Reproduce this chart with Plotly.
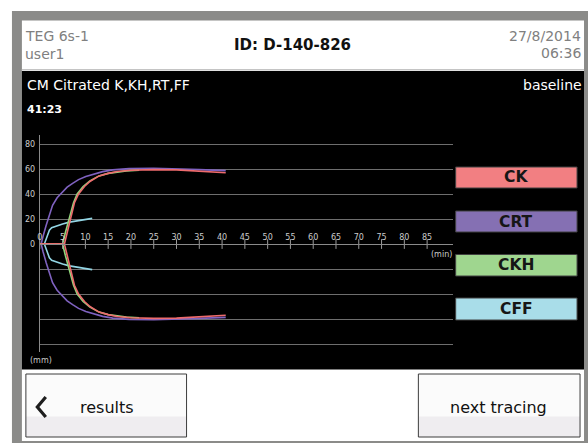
import plotly.graph_objects as go

W, H = 588, 443

# ---------------- data ----------------
series_names = ["CFF", "CRT", "CKH", "CK"]
ck_t = [0, 5.4, 6.0, 6.5, 7.0, 7.6, 8.5, 9.8, 11.0, 13.0, 15.0, 17.0, 20.0, 22.0, 25.0, 30.0, 35.0, 38.0, 40.8]
ck_amp = [0, 0, 9, 16, 25, 33, 40, 46, 50, 54.5, 56.5, 58, 59, 59.3, 59.5, 59.3, 58.5, 57.8, 57]
ckh_t = [0, 5.0, 5.6, 6.2, 6.8, 7.4, 8.2, 9.5, 11.0, 13.0, 15.0, 17.0, 19.0, 21.8]
ckh_amp = [0, 0, 9, 17, 25, 33, 40, 46, 50.5, 54.5, 56.5, 57.8, 58.5, 59]
crt_t = [0, 0.3, 0.7, 1.0, 1.4, 1.75, 2.3, 2.8, 3.8, 5.0, 6.0, 7.2, 8.5, 10.1, 12.0, 13.8, 16.0, 19.6, 25.0, 30.0, 35.0, 40.8]
crt_amp = [0, 0, 6, 11, 15, 19, 25, 31, 37, 42, 45.5, 48.5, 51.5, 54, 56.3, 57.9, 59.3, 60.3, 60.5, 60.3, 59.5, 58.7]
cff_t = [0, 1.0, 1.4, 1.75, 2.1, 2.6, 3.6, 5.0, 6.5, 8.0, 9.5, 11.5]
cff_amp = [0, 0, 4, 7.5, 11, 13, 14.5, 16, 17.5, 18.5, 19.5, 20.5]

x_ticks = list(range(0, 90, 5))
y_grid = [-80, -60, -40, -20, 0, 20, 40, 60, 80]
y_labels = ["", "", "", "", "0", "20", "40", "60", "80"]
legend_labels = ["CK", "CRT", "CKH", "CFF"]

# ---------------- styles ----------------
line_colors = {"CK": "#ee6b6d", "CRT": "#7f62c0", "CKH": "#90d67c", "CFF": "#92d5e4"}
box_colors = {"CK": "#f27f82", "CRT": "#8570b3", "CKH": "#9fd68f", "CFF": "#a9dde9"}
curves = {"CK": (ck_t, ck_amp), "CRT": (crt_t, crt_amp), "CKH": (ckh_t, ckh_amp), "CFF": (cff_t, cff_amp)}


def fx(x):
    return x / W


def fy(y):
    return 1 - y / H


fig = go.Figure()

for name in series_names:
    t, a = curves[name]
    fig.add_trace(go.Scatter(
        x=t + [None] + t,
        y=a + [None] + [-v for v in a],
        mode="lines",
        line=dict(color=line_colors[name], width=1.6),
        name=name, showlegend=False, hoverinfo="skip",
        connectgaps=False,
    ))

# tick marks crossing the zero axis
fig.add_trace(go.Scatter(
    x=x_ticks, y=[0] * len(x_ticks), mode="markers",
    marker=dict(symbol="line-ns", size=7, line=dict(color="#9a9a9a", width=1)),
    showlegend=False, hoverinfo="skip",
))

shapes = []


def rect(x0, y0, x1, y1, fill, line=None, lw=0):
    shapes.append(dict(type="rect", xref="paper", yref="paper", layer="below",
                       x0=fx(x0), x1=fx(x1), y0=fy(y1), y1=fy(y0),
                       fillcolor=fill,
                       line=dict(color=line or fill, width=lw)))


# frame
rect(9, 11, 588, 443, "#8b8b89")
rect(19, 20.5, 584, 441, "#ffffff")
rect(19, 71, 584, 369.5, "#000000")
shapes.append(dict(type="line", xref="paper", yref="paper", layer="below",
                   x0=fx(19), x1=fx(584), y0=fy(69.8), y1=fy(69.8),
                   line=dict(color="#c4c4c4", width=1.5)))

# buttons
for bx0, bx1 in [(23, 184.5), (417.5, 580)]:
    rect(bx0, 374, bx1, 437, "#fbfbfb")
    rect(bx0, 416.5, bx1, 437, "#efedf0")
    shapes.append(dict(type="rect", xref="paper", yref="paper", layer="below",
                       x0=fx(bx0), x1=fx(bx1), y0=fy(437), y1=fy(374),
                       line=dict(color="#3c3c3c", width=1)))

# back chevron
shapes.append(dict(type="path", xref="paper", yref="paper", layer="above",
                   path=f"M {fx(43)} {fy(397)} L {fx(34.5)} {fy(407)} L {fx(43)} {fy(417)}",
                   line=dict(color="#1e1e1e", width=3.2)))

# legend boxes
box_y = [(167, 188), (211, 232), (254.5, 276), (298, 320)]
annotations = []
for lab, (y0, y1) in zip(legend_labels, box_y):
    shapes.append(dict(type="rect", xref="paper", yref="paper", layer="below",
                       x0=fx(455), x1=fx(577), y0=fy(y1), y1=fy(y0),
                       fillcolor=box_colors[lab], line=dict(color="#404040", width=1)))
    annotations.append(dict(text=f"<b>{lab}</b>", x=fx(516), y=fy((y0 + y1) / 2),
                            xref="paper", yref="paper", showarrow=False,
                            xanchor="center", yanchor="middle",
                            font=dict(family="DejaVu Sans", size=15.5, color="#161616")))


def text(s, x, y, size, color, xanchor="left", family="DejaVu Sans"):
    annotations.append(dict(text=s, x=fx(x), y=fy(y), xref="paper", yref="paper",
                            showarrow=False, xanchor=xanchor, yanchor="middle",
                            font=dict(family=family, size=size, color=color)))


text("TEG 6s-1", 20, 36, 14, "#808080")
text("user1", 20, 54, 14, "#808080")
text("<b>ID: D-140-826</b>", 290.5, 45, 15, "#111111", xanchor="center")
text("27/8/2014", 583, 36, 14, "#808080", xanchor="right")
text("06:36", 583, 53, 14, "#808080", xanchor="right")
text("CM Citrated K,KH,RT,FF", 22, 85, 14, "#ffffff")
text("<b>41:23</b>", 22, 109, 11, "#ffffff")
text("baseline", 584, 85, 14, "#ffffff", xanchor="right")
text("(mm)", 25, 360, 8, "#c8c8c8")
text("(min)", 453, 254, 8, "#c8c8c8", xanchor="right")
text("results", 75, 407, 16, "#111111")
text("next tracing", 498, 407, 16, "#111111", xanchor="center")

x_px0, x_px1 = 37, 452
px_per_min = 4.58
y_px_top, y_px_bot, y_px_zero = 135, 352, 244
px_per_mm = 1.25

fig.update_layout(
    width=W, height=H,
    margin=dict(l=0, r=0, t=0, b=0),
    paper_bgcolor="#ffffff",
    plot_bgcolor="rgba(0,0,0,0)",
    shapes=shapes,
    annotations=annotations,
    xaxis=dict(
        domain=[fx(x_px0), fx(x_px1)],
        range=[0, (x_px1 - x_px0) / px_per_min],
        anchor="free", position=fy(y_px_zero), side="top",
        tickvals=x_ticks, ticktext=[str(v) for v in x_ticks],
        ticks="", showgrid=False, zeroline=False,
        showline=True, linecolor="#8a8a8a", linewidth=1,
        tickfont=dict(family="DejaVu Sans", size=8, color="#cccccc"),
        ticklabelstandoff=1,
        fixedrange=True,
    ),
    yaxis=dict(
        domain=[fy(y_px_bot), fy(y_px_top)],
        range=[-(y_px_bot - y_px_zero) / px_per_mm, (y_px_zero - y_px_top) / px_per_mm],
        tickvals=y_grid, ticktext=y_labels,
        ticks="", showgrid=True, gridcolor="#6e6e6e", gridwidth=1,
        zeroline=False, showline=True, linecolor="#8a8a8a", linewidth=1,
        tickfont=dict(family="DejaVu Sans", size=8, color="#cccccc"),
        ticklabelstandoff=2,
        fixedrange=True,
    ),
)

fig.write_html("out.html", config={"displayModeBar": False},
               post_script="document.body.style.margin='0';document.body.style.overflow='hidden';")
